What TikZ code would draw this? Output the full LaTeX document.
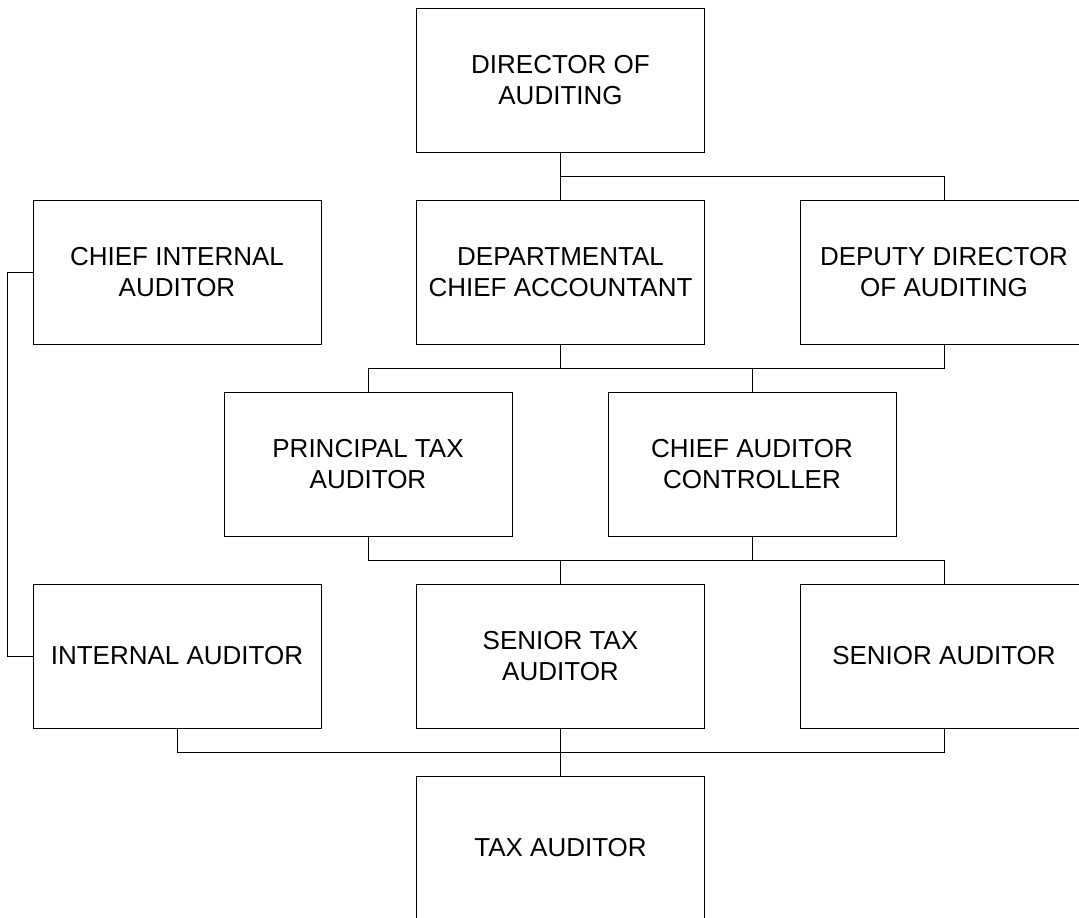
\documentclass[tikz,border=0pt]{standalone}
\usepackage{fontspec}
\setmainfont{Liberation Sans}
\usetikzlibrary{calc}
\begin{document}
\begin{tikzpicture}[x=1pt,y=-1pt,
  orgbox/.style={draw=black, line width=1pt, fill=white, minimum width=288pt, minimum height=144pt,
    inner sep=0pt, align=center, font=\fontsize{26}{30.5}\selectfont},
  link/.style={draw=black, line width=1pt}]
\useasboundingbox (0,0) rectangle (1079,918);
\begin{scope}
\clip (0,0) rectangle (1079,918);
% nodes
\node[orgbox] (dir)  at (560.5,80)  {DIRECTOR OF\\AUDITING};
\node[orgbox] (cia)  at (177,272)   {CHIEF INTERNAL\\AUDITOR};
\node[orgbox] (dept) at (560.5,272) {DEPARTMENTAL\\CHIEF ACCOUNTANT};
\node[orgbox] (dep)  at (944,272)   {DEPUTY DIRECTOR\\OF AUDITING};
\node[orgbox] (pta)  at (368,464)   {PRINCIPAL TAX\\AUDITOR};
\node[orgbox] (cac)  at (752,464)   {CHIEF AUDITOR\\CONTROLLER};
\node[orgbox] (ia)   at (177,656)   {INTERNAL AUDITOR};
\node[orgbox] (sta)  at (560.5,656) {SENIOR TAX\\AUDITOR};
\node[orgbox] (sa)   at (944,656)   {SENIOR AUDITOR};
\node[orgbox] (ta)   at (560.5,848) {TAX AUDITOR};
% junction coordinates
\coordinate (j1) at ($(dir.south)!0.5!(dept.north)$);
\coordinate (j2) at ($(dept.south)!0.5!(dept.south |- pta.north)$);
\coordinate (j3) at ($(sta.north)!0.5!(sta.north |- pta.south)$);
\coordinate (j4) at ($(sta.south)!0.5!(ta.north)$);
\coordinate (lft) at ($(cia.west)+(-25,0)$);
% connectors
\draw[link] (dir.south) -- (dept.north);
\draw[link] (j1) -| (dep.north);
\draw[link] (dept.south) -- (j2);
\draw[link] (dep.south) |- (j2);
\draw[link] (j2) -| (pta.north);
\draw[link] (j2 -| cac.north) -- (cac.north);
\draw[link] (pta.south) |- (j3);
\draw[link] (cac.south) -- (j3 -| cac.south);
\draw[link] (j3) -| (sa.north);
\draw[link] (j3) -- (sta.north);
\draw[link] (cia.west) -- (lft) |- (ia.west);
\draw[link] (ia.south) |- (j4);
\draw[link] (sta.south) -- (ta.north);
\draw[link] (j4) -| (sa.south);
\end{scope}
\end{tikzpicture}
\end{document}
